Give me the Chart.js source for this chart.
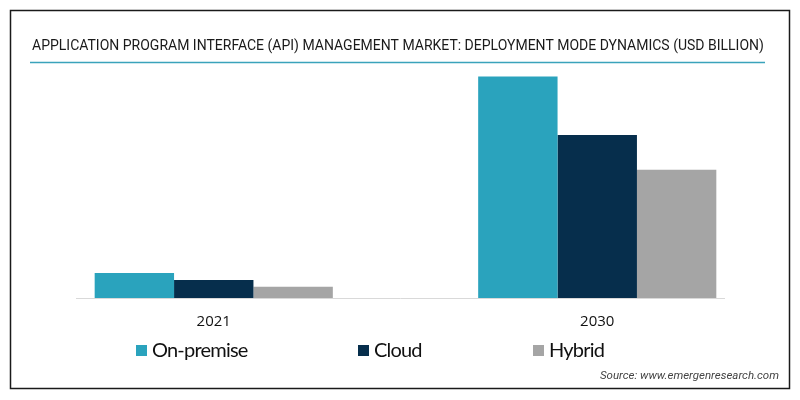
<!DOCTYPE html>
<html>
<head>
<meta charset="utf-8">
<script src="https://cdn.jsdelivr.net/npm/chart.js@4.4.1/dist/chart.umd.min.js"></script>
<style>
  html, body { margin: 0; padding: 0; background: #fff; }
  #wrap { width: 800px; height: 400px; position: relative; }
</style>
</head>
<body>
<div id="wrap"><canvas id="apiChart" width="800" height="400"></canvas></div>
<script>
// data (USD billion, estimated)
const years = ['2021', '2030'];
const seriesNames = ['On-premise', 'Cloud', 'Hybrid'];
const onPremise = [1.8, 15.9];
const cloud = [1.3, 11.7];
const hybrid = [0.8, 9.2];

const colors = ['#2aa3bd', '#062e4c', '#a5a5a5'];
const legendX = [136, 358, 533]; // legend item left edges

const titleText = 'APPLICATION PROGRAM INTERFACE (API) MANAGEMENT MARKET: DEPLOYMENT MODE DYNAMICS (USD BILLION)';
const sourceText = 'Source: www.emergenresearch.com';

// frame, title, rule, legend and source line
const decor = {
    id: 'decor',
    beforeDraw(chart) {
        const ctx = chart.ctx;
        ctx.save();
        ctx.fillStyle = '#fff';
        ctx.fillRect(0, 0, chart.width, chart.height);
        ctx.strokeStyle = '#1a1a1a';
        ctx.lineWidth = 1.5;
        ctx.strokeRect(10.5, 10.5, 779, 378);

        ctx.fillStyle = '#1a1a1a';
        ctx.font = '14px Roboto';
        ctx.textBaseline = 'alphabetic';
        ctx.fillText(titleText, 32, 50);

        ctx.strokeStyle = '#3aa3bb';
        ctx.lineWidth = 1.5;
        ctx.beginPath();
        ctx.moveTo(30, 62.5);
        ctx.lineTo(765, 62.5);
        ctx.stroke();

        // baseline under the bars
        const y0 = Math.round(chart.scales.y.getPixelForValue(0)) + 0.5;
        ctx.strokeStyle = '#d9d9d9';
        ctx.lineWidth = 1;
        ctx.beginPath();
        ctx.moveTo(76, y0);
        ctx.lineTo(725, y0);
        ctx.stroke();
        ctx.restore();
    },
    afterDraw(chart) {
        const ctx = chart.ctx;
        ctx.save();
        chart.data.datasets.forEach((ds, i) => {
            ctx.fillStyle = ds.backgroundColor;
            ctx.fillRect(legendX[i], 345, 11, 11);
            ctx.fillStyle = '#111';
            ctx.font = '20px Lato';
            ctx.letterSpacing = '-0.8px';
            ctx.textBaseline = 'middle';
            ctx.fillText(ds.label, legendX[i] + 16, 351);
        });
        ctx.letterSpacing = '0px';
        ctx.fillStyle = '#444';
        ctx.font = 'italic 11.5px Roboto';
        ctx.textAlign = 'right';
        ctx.textBaseline = 'middle';
        ctx.fillText(sourceText, 779, 376);
        ctx.restore();
    }
};

new Chart(document.getElementById('apiChart').getContext('2d'), {
    type: 'bar',
    data: {
        labels: years,
        datasets: [
            { label: seriesNames[0], data: onPremise, backgroundColor: colors[0] },
            { label: seriesNames[1], data: cloud, backgroundColor: colors[1] },
            { label: seriesNames[2], data: hybrid, backgroundColor: colors[2] }
        ]
    },
    options: {
        responsive: false,
        animation: false,
        layout: {
            padding: { left: 22, right: 11, top: 75, bottom: 62 }
        },
        datasets: {
            bar: {
                categoryPercentage: 0.621,
                barPercentage: 1,
                borderWidth: 0
            }
        },
        scales: {
            x: {
                grid: { display: false, drawTicks: false },
                border: { display: false },
                ticks: {
                    color: '#111',
                    font: { family: 'Open Sans', size: 15 },
                    padding: 15
                },
                afterFit: (s) => { s.height = 40; }
            },
            y: {
                display: false,
                min: 0,
                max: 16
            }
        },
        plugins: {
            legend: { display: false },
            title: { display: false },
            tooltip: { enabled: false }
        }
    },
    plugins: [decor]
});
</script>
</body>
</html>
